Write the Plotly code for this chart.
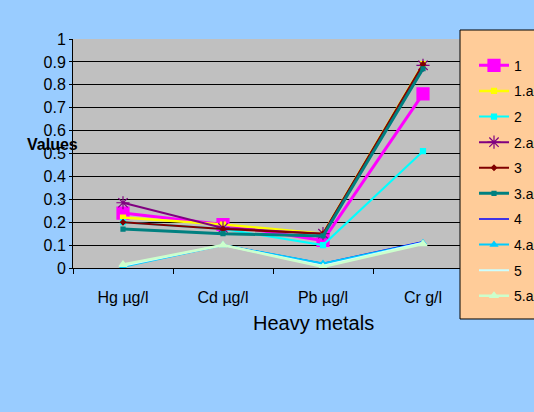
import plotly.graph_objects as go

categories = ["Hg µg/l", "Cd µg/l", "Pb µg/l", "Cr g/l"]
series_names = ["1", "1.a", "2", "2.a", "3", "3.a", "4", "4.a", "5", "5.a"]
s1 = [0.24, 0.19, 0.12, 0.76]
s1a = [0.22, 0.19, 0.15, 0.89]
s2 = [0.20, 0.17, 0.10, 0.51]
s2a = [0.285, 0.175, 0.15, 0.885]
s3 = [0.20, 0.17, 0.15, 0.89]
s3a = [0.17, 0.15, 0.14, 0.87]
s4 = [0.01, 0.10, 0.02, 0.115]
s4a = [0.005, 0.10, 0.02, 0.11]
s5 = [0.01, 0.10, 0.01, 0.11]
s5a = [0.015, 0.10, 0.005, 0.105]
values = [s1, s1a, s2, s2a, s3, s3a, s4, s4a, s5, s5a]

styles = [
    dict(color="#FF00FF", width=3, symbol="square", size=12),
    dict(color="#FFFF00", width=2.5, symbol="square", size=5),
    dict(color="#00FFFF", width=2, symbol="square", size=5),
    dict(color="#800080", width=2, symbol="asterisk-open", size=11),
    dict(color="#800000", width=2, symbol="diamond", size=4),
    dict(color="#008080", width=3, symbol="square", size=4),
    dict(color="#0000FF", width=1.5, symbol=None, size=0),
    dict(color="#00CCFF", width=2, symbol="triangle-up", size=6),
    dict(color="#CCFFFF", width=2, symbol=None, size=0),
    dict(color="#CCFFCC", width=2.5, symbol="triangle-up", size=7),
]

FONT = "Arial, Liberation Sans, sans-serif"

fig = go.Figure()
for name, vals, st in zip(series_names, values, styles):
    if st["symbol"] is None:
        mode = "lines"
        marker = None
    else:
        mode = "lines+markers"
        marker = dict(symbol=st["symbol"], size=st["size"], color=st["color"],
                      line=dict(color=st["color"], width=1.2))
    fig.add_trace(go.Scatter(
        x=categories, y=vals, name=name, mode=mode,
        line=dict(color=st["color"], width=st["width"]),
        marker=marker, legendgroup=name,
    ))

fig.update_layout(
    width=534, height=412,
    margin=dict(l=73, r=61, t=39, b=144, autoexpand=False),
    paper_bgcolor="#99CCFF",
    plot_bgcolor="#C0C0C0",
    font=dict(family=FONT, color="black", size=16),
    showlegend=True,
    legend=dict(
        x=1.0025, xanchor="left", y=0.953, yanchor="top",
        bgcolor="rgba(0,0,0,0)", borderwidth=0,
        font=dict(family=FONT, size=14, color="black"),
        traceorder="grouped", tracegroupgap=4.4, maxheight=400,
    ),
    xaxis=dict(
        type="category", showline=True, linecolor="black", linewidth=1,
        ticks="outside", tickson="boundaries", ticklen=5, tickcolor="black",
        showgrid=False, tickfont=dict(size=16), ticklabelstandoff=15,
        range=[-0.5, 3.5],
    ),
    yaxis=dict(
        range=[0, 1], dtick=0.1, showline=True, linecolor="black", linewidth=1,
        ticks="outside", ticklen=3, tickcolor="black",
        showgrid=True, gridcolor="black", gridwidth=1,
        tickfont=dict(size=16), zeroline=False,
    ),
    shapes=[dict(
        type="rect", xref="paper", yref="paper",
        x0=0.9675, x1=1.25, y0=-0.2227, y1=1.0393,
        fillcolor="#FFCC99", line=dict(color="black", width=1), layer="above",
    )],
    annotations=[
        dict(text="<b>Values</b>", xref="paper", yref="paper",
             x=(52.5 - 73) / 400, y=(268 - 144) / 229, showarrow=False,
             font=dict(size=16, family=FONT, color="black"),
             xanchor="center", yanchor="middle"),
        dict(text="Heavy metals", xref="paper", yref="paper",
             x=0.6, y=(268 - 323) / 229, showarrow=False,
             font=dict(size=20, family=FONT, color="black"),
             xanchor="center", yanchor="middle"),
    ],
)

fig.write_html("out.html", config={"displayModeBar": False},
               post_script="document.body.style.margin='0';document.body.style.padding='0';")
